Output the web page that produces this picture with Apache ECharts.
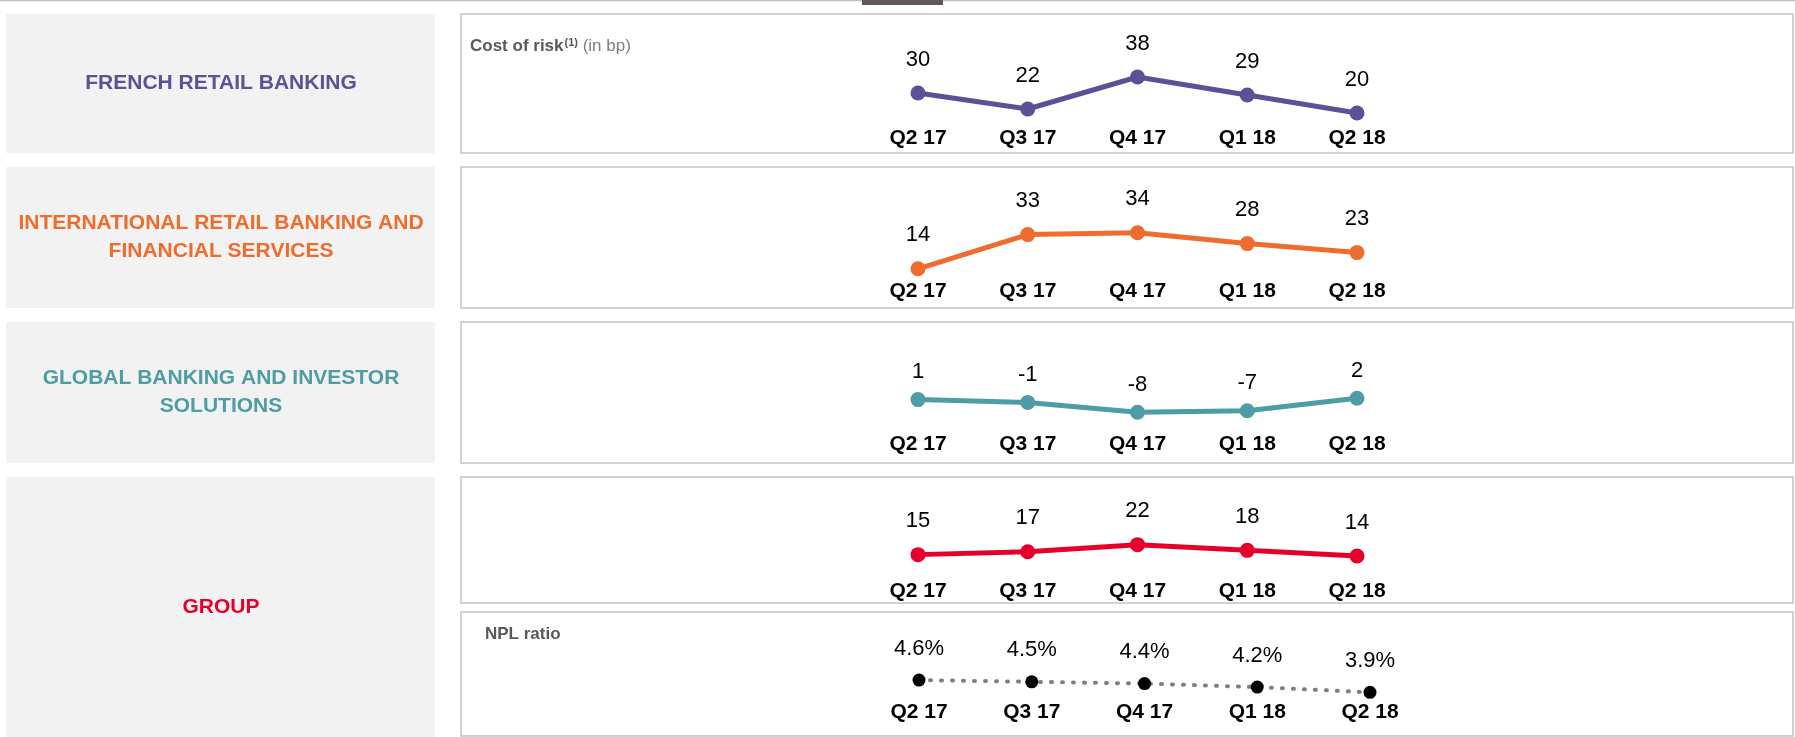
<!DOCTYPE html>
<html>
<head>
<meta charset="utf-8">
<script src="https://cdn.jsdelivr.net/npm/echarts@6/dist/echarts.min.js"></script>
<style>
  html, body { margin: 0; padding: 0; background: #fff; }
  #chart { width: 1795px; height: 737px; }
</style>
</head>
<body>
<div id="chart"></div>
<script>
const quarters = ['Q2 17', 'Q3 17', 'Q4 17', 'Q1 18', 'Q2 18'];
const frenchRetail = [30, 22, 38, 29, 20];
const intlRetail = [14, 33, 34, 28, 23];
const globalBanking = [1, -1, -8, -7, 2];
const groupCost = [15, 17, 22, 18, 14];
const nplRatio = [4.6, 4.5, 4.4, 4.2, 3.9];

const FONT = '"Liberation Sans", Arial, sans-serif';

const chart = echarts.init(document.getElementById('chart'));

// one grid per panel, y ranges picked so the slopes match the slide
const panels = [
  { top: 63, height: 60, left: 918, width: 439, min: 15, max: 45 },
  { top: 222, height: 54, left: 918, width: 439, min: 10, max: 40 },
  { top: 373, height: 56, left: 918, width: 439, min: -20, max: 20 },
  { top: 519, height: 57, left: 918, width: 439, min: 0, max: 40 },
  { top: 673, height: 26.4, left: 919, width: 451, min: 3.5, max: 5 }
];

const lines = [
  { data: frenchRetail, color: '#5B5196', dist: 15 },
  { data: intlRetail, color: '#EF6C2F', dist: 15 },
  { data: globalBanking, color: '#4E9DA6', dist: 9 },
  { data: groupCost, color: '#E5002B', dist: 15 },
];

function box(x, y, w, h, fill, stroke) {
  return {
    type: 'rect', silent: true,
    shape: { x: x, y: y, width: w, height: h },
    style: { fill: fill, stroke: stroke || null, lineWidth: stroke ? 1.5 : 0 }
  };
}

function heading(text, y, color) {
  return {
    type: 'text', silent: true, x: 221, y: y,
    style: {
      text: text, fill: color, font: 'bold 21px ' + FONT,
      align: 'center', verticalAlign: 'middle', lineHeight: 28
    }
  };
}

const option = {
  animation: false,
  grid: panels.map(p => ({ top: p.top, height: p.height, left: p.left, width: p.width })),
  xAxis: panels.map((p, i) => ({
    type: 'category',
    gridIndex: i,
    data: quarters,
    boundaryGap: false,
    axisLine: { show: false },
    axisTick: { show: false },
    axisLabel: {
      margin: i === 4 ? 2 : 5,
      color: '#000',
      fontFamily: FONT,
      fontWeight: 'bold',
      fontSize: 21
    }
  })),
  yAxis: panels.map((p, i) => ({
    type: 'value', gridIndex: i, min: p.min, max: p.max,
    show: false, splitLine: { show: false }
  })),
  series: lines.map((l, i) => ({
    type: 'line',
    xAxisIndex: i, yAxisIndex: i,
    data: l.data,
    symbol: 'circle',
    symbolSize: 15,
    lineStyle: { color: l.color, width: 5 },
    itemStyle: { color: l.color },
    label: {
      show: true, position: 'top', distance: l.dist,
      color: '#000', fontFamily: FONT, fontSize: 22
    }
  })).concat([{
    type: 'line',
    xAxisIndex: 4, yAxisIndex: 4,
    data: nplRatio,
    symbol: 'circle',
    symbolSize: 13,
    lineStyle: { color: '#7F7F7F', width: 4, type: [1, 10], cap: 'round' },
    itemStyle: { color: '#000' },
    label: {
      show: true, position: 'top', distance: 14,
      color: '#000', fontFamily: FONT, fontSize: 22,
      formatter: p => p.value.toFixed(1) + '%'
    }
  }]),
  graphic: [
    { type: 'line', silent: true, shape: { x1: 0, y1: 0.5, x2: 1795, y2: 0.5 }, style: { stroke: '#BFBFBF', lineWidth: 1.5 } },
    box(862, 0, 81, 5, '#5F5858'),
    box(6, 14, 429, 139, '#F2F2F2'),
    box(6, 167, 429, 141, '#F2F2F2'),
    box(6, 322, 429, 141, '#F2F2F2'),
    box(6, 477, 429, 270, '#F2F2F2'),
    box(461, 14, 1332, 139, '#fff', '#C4C4C4'),
    box(461, 167, 1332, 141, '#fff', '#C4C4C4'),
    box(461, 322, 1332, 141, '#fff', '#C4C4C4'),
    box(461, 477, 1332, 126, '#fff', '#C4C4C4'),
    box(461, 612, 1332, 124, '#fff', '#C4C4C4'),
    heading('FRENCH RETAIL BANKING', 83, '#5B5196'),
    heading('INTERNATIONAL RETAIL BANKING AND\nFINANCIAL SERVICES', 237, '#EF6C2F'),
    heading('GLOBAL BANKING AND INVESTOR\nSOLUTIONS', 392, '#4E9DA6'),
    heading('GROUP', 607, '#E5002B'),
    {
      type: 'text', silent: true, x: 470, y: 46,
      style: {
        text: '{b|Cost of risk}{s|(1)}{n| (in bp)}',
        verticalAlign: 'middle',
        rich: {
          b: { font: 'bold 17px ' + FONT, fill: '#595959', verticalAlign: 'bottom' },
          s: { font: 'bold 11px ' + FONT, fill: '#595959', verticalAlign: 'top', padding: [0, 0, 0, 1] },
          n: { font: '17px ' + FONT, fill: '#7F7F7F', verticalAlign: 'bottom' }
        }
      }
    },
    {
      type: 'text', silent: true, x: 485, y: 634,
      style: { text: 'NPL ratio', font: 'bold 17px ' + FONT, fill: '#595959', verticalAlign: 'middle' }
    }
  ]
};

chart.setOption(option);
</script>
</body>
</html>
